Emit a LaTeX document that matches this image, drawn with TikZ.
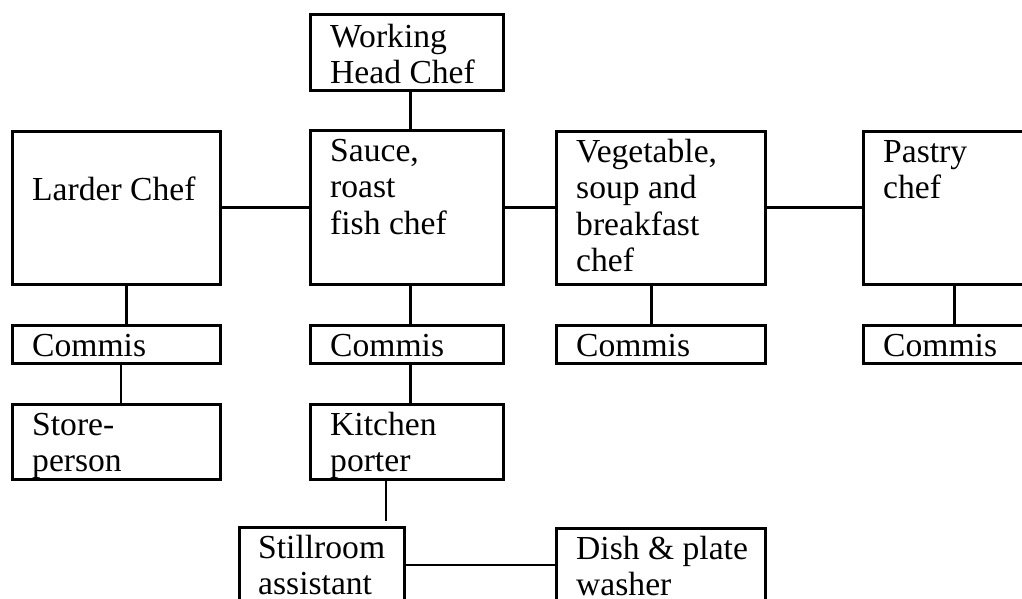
\documentclass[tikz,border=0pt]{standalone}
\usepackage{fontspec}
\setmainfont{Liberation Serif}
\newcommand{\stacktext}[1]{\begin{tabular}[t]{@{}l@{}}#1\end{tabular}}
\begin{document}
\begin{tikzpicture}[x=1pt,y=-1pt,
  box/.style={draw, line width=3pt, rectangle, inner sep=0pt, outer sep=0pt, anchor=north west},
  lbl/.style={anchor=base west, inner sep=0pt, font=\fontsize{33.6}{36.5}\selectfont},
  wire/.style={line width=3pt},
  thinwire/.style={line width=2pt}]
\useasboundingbox (0,0) rectangle (1022,598);
\clip (0,0) rectangle (1022,598);
% boxes
\node[box, minimum width=193pt, minimum height=76pt]  (head)   at (310,14)  {};
\node[box, minimum width=193pt, minimum height=154pt] (sauce)  at (310,130) {};
\node[box, minimum width=208pt, minimum height=153pt] (larder) at (12,131)  {};
\node[box, minimum width=209pt, minimum height=153pt] (veg)    at (556,131) {};
\node[box, minimum width=209pt, minimum height=153pt] (pastry) at (863,131) {};
\node[box, minimum width=208pt, minimum height=38pt]  (c1)     at (12,325)  {};
\node[box, minimum width=193pt, minimum height=38pt]  (c2)     at (310,325) {};
\node[box, minimum width=209pt, minimum height=38pt]  (c3)     at (556,325) {};
\node[box, minimum width=209pt, minimum height=38pt]  (c4)     at (863,325) {};
\node[box, minimum width=208pt, minimum height=75pt]  (store)  at (12,404)  {};
\node[box, minimum width=193pt, minimum height=75pt]  (porter) at (310,404) {};
\node[box, minimum width=165pt, minimum height=93pt]  (still)  at (239,527) {};
\node[box, minimum width=209pt, minimum height=92pt]  (dish)   at (556,528) {};
% texts
\node[lbl] (thead)   at ([xshift=20pt,yshift=-33pt]head.north west)   {\stacktext{Working\\Head Chef}};
\node[lbl] (tsauce)  at ([xshift=20pt,yshift=-31pt]sauce.north west)  {\stacktext{Sauce,\\roast\\fish chef}};
\node[lbl] (tlarder) at ([xshift=20pt,yshift=-69pt]larder.north west) {Larder Chef};
\node[lbl] (tveg)    at ([xshift=20pt,yshift=-31pt]veg.north west)    {\stacktext{Vegetable,\\soup and\\breakfast\\chef}};
\node[lbl] (tpastry) at ([xshift=20pt,yshift=-31pt]pastry.north west) {\stacktext{Pastry\\chef}};
\node[lbl] (tc1)     at ([xshift=20pt,yshift=-31pt]c1.north west)     {Commis};
\node[lbl] (tc2)     at ([xshift=20pt,yshift=-31pt]c2.north west)     {Commis};
\node[lbl] (tc3)     at ([xshift=20pt,yshift=-31pt]c3.north west)     {Commis};
\node[lbl] (tc4)     at ([xshift=20pt,yshift=-31pt]c4.north west)     {Commis};
\node[lbl] (tstore)  at ([xshift=20pt,yshift=-31pt]store.north west)  {\stacktext{Store-\\person}};
\node[lbl] (tporter) at ([xshift=20pt,yshift=-31pt]porter.north west) {\stacktext{Kitchen\\porter}};
\node[lbl] (tstill)  at ([xshift=19pt,yshift=-31pt]still.north west)  {\stacktext{Stillroom\\assistant}};
\node[lbl] (tdish)   at ([xshift=20pt,yshift=-31pt]dish.north west)   {\stacktext{Dish \& plate\\washer}};
% connectors
\draw[wire] ([xshift=100pt]head.south west) -- ([xshift=100pt]sauce.north west);
\draw[wire] (larder.east) -- (larder.east -| sauce.west);
\draw[wire] (sauce.east) -- (sauce.east -| veg.west);
\draw[wire] (veg.east) -- (veg.east -| pastry.west);
\draw[wire] ([xshift=114pt]larder.south west) -- ([xshift=114pt]c1.north west);
\draw[thinwire] ([xshift=109pt]c1.south west) -- ([xshift=109pt]store.north west);
\draw[wire] ([xshift=100pt]sauce.south west) -- ([xshift=100pt]c2.north west);
\draw[wire] ([xshift=100pt]c2.south west) -- ([xshift=100pt]porter.north west);
\draw[wire] ([xshift=95pt]veg.south west) -- ([xshift=95pt]c3.north west);
\draw[wire] ([xshift=91pt]pastry.south west) -- ([xshift=91pt]c4.north west);
\coordinate (pend) at ([xshift=147pt,yshift=6pt]still.north west);
\draw[thinwire] ([xshift=76pt]porter.south west) -- (pend);
\draw[thinwire] ([yshift=-38pt]still.north east) -- ([yshift=-37pt]dish.north west);
\end{tikzpicture}
\end{document}
